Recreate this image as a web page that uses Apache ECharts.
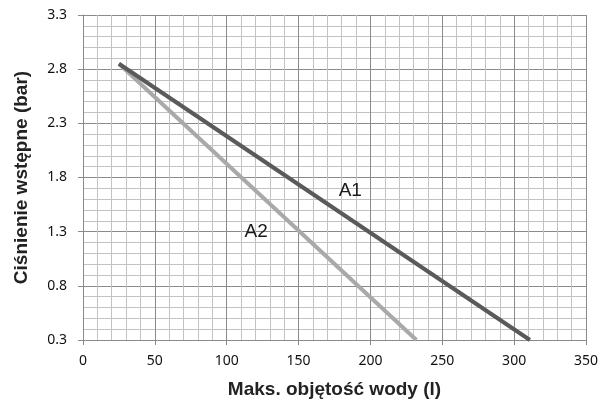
<!DOCTYPE html>
<html>
<head>
<meta charset="utf-8">
<script src="https://cdn.jsdelivr.net/npm/echarts@6/dist/echarts.min.js"></script>
<style>html,body{margin:0;padding:0;background:#fff}#c{width:601px;height:409px}</style>
</head>
<body>
<div id="c"></div>
<script>
// Data
const seriesNames = ['A1', 'A2'];
const a1Points = [[25, 2.85], [311, 0.3]];
const a2Points = [[25, 2.85], [232, 0.3]];
const labelA1 = [186, 1.68];
const labelA2 = [120.5, 1.30];
const xTicks = [0, 50, 100, 150, 200, 250, 300, 350];
const yTicks = [0.3, 0.8, 1.3, 1.8, 2.3, 2.8, 3.3];
const xTitle = 'Maks. objętość wody (l)';
const yTitle = 'Ciśnienie wstępne (bar)';

const majorColor = '#8a8a8a';
const minorColor = '#c2c2c2';
const labelFont = 'Noto Sans';
const titleFont = 'Liberation Sans, Arial';

const chart = echarts.init(document.getElementById('c'), null, {renderer: 'canvas'});
chart.setOption({
  animation: false,
  backgroundColor: '#fff',
  grid: {left: 83, right: 13, top: 15, bottom: 69, containLabel: false},
  xAxis: {
    type: 'value',
    min: xTicks[0], max: xTicks[xTicks.length - 1], interval: xTicks[1] - xTicks[0],
    name: xTitle, nameLocation: 'middle', nameGap: 40,
    nameTextStyle: {fontFamily: titleFont, fontWeight: 'bold', fontSize: 19, color: '#222'},
    axisLine: {show: true, lineStyle: {color: majorColor, width: 1}},
    axisTick: {show: true, length: 5, lineStyle: {color: majorColor}},
    axisLabel: {margin: 14, fontFamily: labelFont, fontSize: 14, color: '#111'},
    splitLine: {show: true, lineStyle: {color: majorColor, width: 1}},
    minorTick: {show: false, splitNumber: 5},
    minorSplitLine: {show: true, lineStyle: {color: minorColor, width: 1}}
  },
  yAxis: {
    type: 'value',
    min: yTicks[0], max: yTicks[yTicks.length - 1], interval: 0.5,
    name: yTitle, nameLocation: 'middle', nameGap: 52, nameRotate: 90,
    nameTextStyle: {fontFamily: titleFont, fontWeight: 'bold', fontSize: 19, color: '#222'},
    axisLine: {show: true, lineStyle: {color: majorColor, width: 1}},
    axisTick: {show: true, length: 5, lineStyle: {color: majorColor}},
    axisLabel: {margin: 16, fontFamily: labelFont, fontSize: 14, color: '#111',
      formatter: v => v.toFixed(1)},
    splitLine: {show: true, lineStyle: {color: majorColor, width: 1}},
    minorTick: {show: false, splitNumber: 5},
    minorSplitLine: {show: true, lineStyle: {color: minorColor, width: 1}}
  },
  series: [
    {
      name: seriesNames[0], type: 'line', data: a1Points, showSymbol: false, symbol: 'none',
      lineStyle: {color: '#5a5a5a', width: 4}, z: 3,
      markPoint: {symbol: 'circle', symbolSize: 0,
        label: {show: true, position: 'inside', formatter: seriesNames[0], fontFamily: 'Liberation Sans, Arial', fontSize: 19, color: '#1a1a1a'},
        data: [{coord: labelA1}]}
    },
    {
      name: seriesNames[1], type: 'line', data: a2Points, showSymbol: false, symbol: 'none',
      lineStyle: {color: '#a9a9a9', width: 4}, z: 2,
      markPoint: {symbol: 'circle', symbolSize: 0,
        label: {show: true, position: 'inside', formatter: seriesNames[1], fontFamily: 'Liberation Sans, Arial', fontSize: 19, color: '#1a1a1a'},
        data: [{coord: labelA2}]}
    }
  ]
});
</script>
</body>
</html>
